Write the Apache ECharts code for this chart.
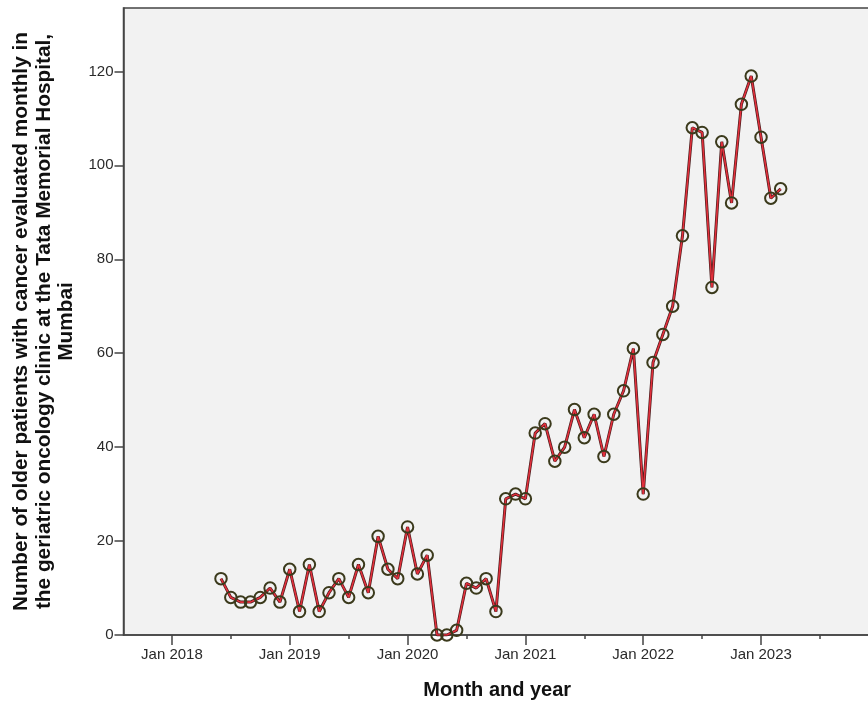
<!DOCTYPE html>
<html>
<head>
<meta charset="utf-8">
<script src="https://cdn.jsdelivr.net/npm/echarts@6/dist/echarts.min.js"></script>
<style>html,body{margin:0;padding:0;background:#fff}#c{width:868px;height:702px}</style>
</head>
<body>
<div id="c"></div>
<script>
const months = ['2018-06','2018-07','2018-08','2018-09','2018-10','2018-11','2018-12',
  '2019-01','2019-02','2019-03','2019-04','2019-05','2019-06','2019-07','2019-08','2019-09','2019-10','2019-11','2019-12',
  '2020-01','2020-02','2020-03','2020-04','2020-05','2020-06','2020-07','2020-08','2020-09','2020-10','2020-11','2020-12',
  '2021-01','2021-02','2021-03','2021-04','2021-05','2021-06','2021-07','2021-08','2021-09','2021-10','2021-11','2021-12',
  '2022-01','2022-02','2022-03','2022-04','2022-05','2022-06','2022-07','2022-08','2022-09','2022-10','2022-11','2022-12',
  '2023-01','2023-02','2023-03'];
const patients = [12,8,7,7,8,10,7,
  14,5,15,5,9,12,8,15,9,21,14,12,
  23,13,17,0,0,1,11,10,12,5,29,30,
  29,43,45,37,40,48,42,47,38,47,52,61,
  30,58,64,70,85,108,107,74,105,92,113,119,
  106,93,95];
const yearTickLabels = ['Jan 2018','Jan 2019','Jan 2020','Jan 2021','Jan 2022','Jan 2023'];
const midYearTicks = ['Jul 2018','Jul 2019','Jul 2020','Jul 2021','Jul 2022','Jul 2023'];
const yTicks = [0,20,40,60,80,100,120];

const MON = {Jan:0,Feb:1,Mar:2,Apr:3,May:4,Jun:5,Jul:6,Aug:7,Sep:8,Oct:9,Nov:10,Dec:11};
function isoIdx(s){const p=s.split('-').map(Number);return (p[0]-2018)*12+(p[1]-1);}
function lblIdx(s){const p=s.split(' ');return (Number(p[1])-2018)*12+MON[p[0]];}
const labelMap = {};
yearTickLabels.forEach(l=>{labelMap[lblIdx(l)]=l;});
const seriesData = months.map((m,i)=>[isoIdx(m), patients[i]]);

const X_MIN = -4.93, X_MAX = 71.2;
const axisCol = '#444';
const chart = echarts.init(document.getElementById('c'));
chart.setOption({
  animation:false,
  backgroundColor:'#fff',
  grid:{left:123.5,right:-3,top:8,bottom:67,containLabel:false,outerBoundsMode:'none',
    show:true,backgroundColor:'#f2f2f2',borderColor:axisCol,borderWidth:1.5},
  xAxis:[{
    type:'value',min:X_MIN,max:X_MAX,
    name:'Month and year',nameLocation:'middle',nameGap:45,
    nameTextStyle:{fontFamily:'Liberation Sans',fontWeight:'bold',fontSize:20,color:'#111'},
    axisLine:{show:true,onZero:false,lineStyle:{color:axisCol,width:1.5}},
    axisTick:{show:true,length:10,lineStyle:{color:axisCol,width:1.5},customValues:yearTickLabels.map(lblIdx)},
    axisLabel:{customValues:yearTickLabels.map(lblIdx),formatter:v=>labelMap[Math.round(v)]||'',
      fontFamily:'Liberation Sans',fontSize:15,color:'#2a2a2a',margin:12},
    splitLine:{show:false}
  },{
    type:'value',min:X_MIN,max:X_MAX,position:'bottom',
    axisLine:{show:false,onZero:false},
    axisTick:{show:true,length:4,lineStyle:{color:axisCol,width:1.5},customValues:midYearTicks.map(lblIdx)},
    axisLabel:{show:false},splitLine:{show:false}
  }],
  yAxis:{
    type:'value',min:0,max:133.5,
    name:'Number of older patients with cancer evaluated monthly in\nthe geriatric oncology clinic at the Tata Memorial Hospital,\nMumbai',
    nameLocation:'middle',nameGap:45.5,nameRotate:90,
    nameTextStyle:{fontFamily:'Liberation Sans',fontWeight:'bold',fontSize:20.8,lineHeight:22.5,color:'#111',align:'center'},
    axisLine:{show:true,onZero:false,lineStyle:{color:axisCol,width:1.5}},
    axisTick:{show:true,length:9,lineStyle:{color:axisCol,width:1.5},customValues:yTicks},
    axisLabel:{customValues:yTicks,fontFamily:'Liberation Sans',fontSize:15,color:'#2a2a2a',margin:10},
    splitLine:{show:false}
  },
  series:[{
    type:'line',data:seriesData,symbol:'none',silent:true,
    lineStyle:{color:'#4a1c1c',width:3}
  },{
    type:'line',data:seriesData,symbol:'circle',symbolSize:11.5,
    lineStyle:{color:'#e3303c',width:1.6},
    itemStyle:{color:'rgba(0,0,0,0)',borderColor:'#3b3a1c',borderWidth:2}
  }]
});
</script>
</body>
</html>
